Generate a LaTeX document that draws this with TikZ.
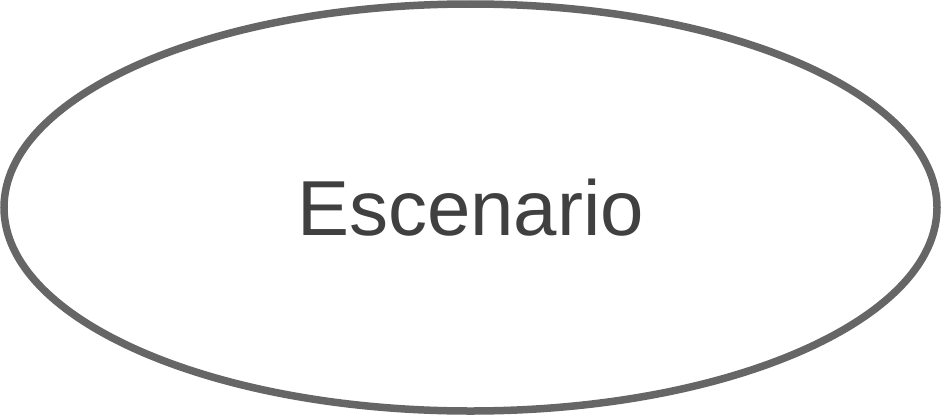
\documentclass[tikz,border=0pt]{standalone}
\usepackage{fontspec}
\setmainfont{Liberation Sans}
\usetikzlibrary{shapes.geometric}
\definecolor{edgegray}{HTML}{666666}
\definecolor{textgray}{HTML}{404040}
\tikzset{scen/.style={ellipse, draw=edgegray, line width=7.5pt, fill=white, minimum width=933pt, minimum height=407pt, inner sep=0pt, text=textgray, font=\fontsize{78}{82}\selectfont}}
\begin{document}
\begin{tikzpicture}[x=1pt,y=-1pt]
\useasboundingbox (0,0) rectangle (941,415);
\node[scen] (esc) at (470.5,207.5) {Escenario};
\end{tikzpicture}
\end{document}
